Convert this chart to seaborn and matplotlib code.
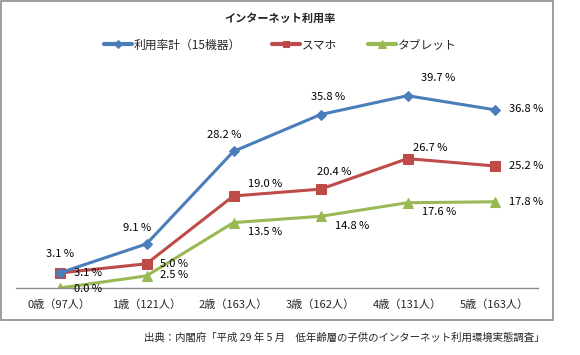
import matplotlib
matplotlib.use("Agg")
import pandas as pd
import numpy as np
import matplotlib.pyplot as plt
from matplotlib.patches import Rectangle
import seaborn as sns

sns.set_style("white")
plt.rcParams["font.family"] = ["Noto Sans CJK JP", "DejaVu Sans"]

# data
ages = ["0歳（97人）", "1歳（121人）", "2歳（163人）", "3歳（162人）", "4歳（131人）", "5歳（163人）"]
series_names = ["利用率計（15機器）", "スマホ", "タブレット"]
total = [3.1, 9.1, 28.2, 35.8, 39.7, 36.8]
smartphone = [3.1, 5.0, 19.0, 20.4, 26.7, 25.2]
tablet = [0.0, 2.5, 13.5, 14.8, 17.6, 17.8]

df = pd.DataFrame({
    "age": ages * 3,
    "rate": total + smartphone + tablet,
    "series": np.repeat(series_names, len(ages)),
})

colors = {"利用率計（15機器）": "#4A7EBB", "スマホ": "#BE4B48", "タブレット": "#98B954"}
markers = {"利用率計（15機器）": "D", "スマホ": "s", "タブレット": "^"}
msize = {"利用率計（15機器）": 5, "スマホ": 6.5, "タブレット": 7.5}

fig = plt.figure(figsize=(5.8, 3.55), dpi=100)
ax = fig.add_axes([16 / 580, 67 / 355, 522 / 580, 218 / 355])

# draw tablet first so total/smartphone sit on top
for name in series_names[::-1]:
    sub = df[df["series"] == name]
    sns.lineplot(data=sub, x="age", y="rate", ax=ax, color=colors[name],
                 marker=markers[name], markersize=msize[name],
                 markeredgecolor=colors[name], linewidth=2.2,
                 label=name, sort=False)

ax.set_xlim(-0.5, 5.5)
ax.set_ylim(0, 45)
ax.set_xlabel("")
ax.set_ylabel("")
ax.set_yticks([])
ax.tick_params(axis="x", length=0, labelsize=8, pad=8)
for s in ["top", "right", "left"]:
    ax.spines[s].set_visible(False)
ax.spines["bottom"].set_color("#8c8c8c")
ax.spines["bottom"].set_linewidth(1)

# data labels (offsets in pixels)
offsets = {
    "利用率計（15機器）": [(1, 19), (-9, 16), (-9, 16), (8, 18), (31, 18), (32, 1)],
    "スマホ": [(29, 0), (28, 0), (32, 12), (14, 17), (23, 11), (32, 0)],
    "タブレット": [(29, -1), (28, 1), (32, -9), (32, -10), (32, -9), (32, 0)],
}
values = {"利用率計（15機器）": total, "スマホ": smartphone, "タブレット": tablet}
for name in series_names:
    for i, v in enumerate(values[name]):
        dx, dy = offsets[name][i]
        ax.annotate(f"{v:.1f} %", (i, v), xytext=(dx * 0.72, dy * 0.72),
                    textcoords="offset points", ha="center", va="center",
                    fontsize=8, color="black")

# legend above the plot
handles, labels = ax.get_legend_handles_labels()
order = [labels.index(n) for n in series_names]
leg = ax.legend([handles[i] for i in order], [labels[i] for i in order],
                ncol=3, loc="center", bbox_to_anchor=(280 / 580, 1 - 45 / 355),
                bbox_transform=fig.transFigure, frameon=False, fontsize=8.5,
                handlelength=2.4, columnspacing=2.6, handletextpad=0.15,
                markerscale=0.75)
for h in leg.legend_handles:
    h.set_linewidth(3)

fig.text(280 / 580, 1 - 18 / 355, "インターネット利用率", ha="center", va="center",
         fontsize=8, fontweight="bold")

fig.text(545 / 580, 1 - 338 / 355,
         "出典：内閣府「平成 29 年 5 月　低年齢層の子供のインターネット利用環境実態調査」",
         ha="right", va="center", fontsize=7.5)

fig.patches.append(Rectangle((1 / 580, 35 / 355), 552 / 580, 319 / 355,
                             transform=fig.transFigure, fill=False,
                             edgecolor="#8c8c8c", linewidth=1.2))

fig.savefig("out.png", dpi=100)
